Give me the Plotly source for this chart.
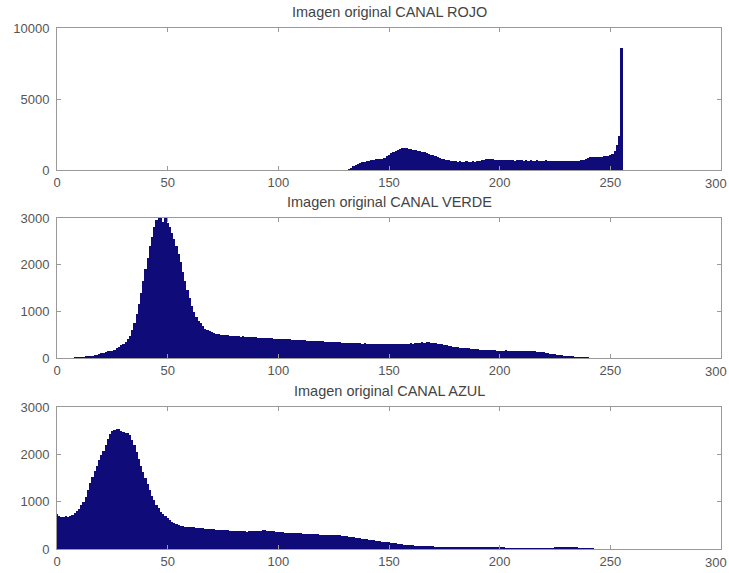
import plotly.graph_objects as go

# ---------------- data (histogram counts, bins 0..255) ----------------
bins = list(range(256))

red_counts = (
    [0] * 132
    + [50, 150, 260, 350, 420, 480, 530, 560, 600, 640,
       680, 720, 740, 750, 760, 800, 880, 980, 1080, 1180,
       1280, 1360, 1430, 1490, 1530, 1540, 1530, 1500, 1470, 1440,
       1400, 1370, 1330, 1290, 1240, 1190, 1140, 1090, 1040, 980,
       920, 860, 800, 750, 710, 680, 650, 630]            # 132..179
    + [610, 590, 600, 580, 590, 600, 570, 590, 600, 580, 610]  # 180..190
    + [640, 680, 720, 740, 750, 760, 740, 730, 720, 700]       # 191..200
    + [690, 680, 700, 670, 690, 680, 660, 690, 670, 680,
       650, 670, 660, 680, 650, 660, 670, 640, 660, 650,
       670, 640, 650, 660, 640, 650, 660, 640, 630, 650,
       640, 660, 650, 640, 660, 650, 670, 680]                 # 201..238
    + [760, 850, 900, 920, 940, 930, 950, 940, 960, 980, 1000, 1060]  # 239..250
    + [1150, 1350, 1750, 2400, 8600]                           # 251..255
)

green_counts = (
    [0] * 8
    + [5, 8, 12, 15, 20, 25, 32, 40, 50, 60,
       72, 85, 100, 115, 130, 140, 150, 160, 180, 210,
       240, 270, 300, 340, 400, 480, 600, 750, 950, 1150,
       1400, 1650, 1900, 2150, 2400, 2600, 2800, 2950, 3000, 3020,
       2920, 2990, 2900, 2800, 2680, 2550, 2400, 2230, 2050, 1850,
       1650, 1450, 1280, 1120, 980, 880, 800, 740, 680, 630,
       590, 570, 550, 530, 515, 505, 500, 495]                 # 8..75
    + [490, 485, 480, 478, 470, 472, 465, 460, 462, 455,
       450, 452, 445, 440, 442, 435, 430, 432, 425, 420,
       422, 418, 415, 412, 410]                                # 76..100
    + [408, 405, 400, 402, 398, 395, 390, 392, 385, 380,
       382, 378, 375, 370, 372, 365, 360, 362, 358, 355,
       350, 352, 348, 345, 340, 342, 338, 335, 330, 332,
       328, 325, 320, 322, 318, 315, 312, 310, 312, 308]       # 101..140
    + [305, 300, 302, 298, 300, 295, 298, 300, 302, 298,
       295, 300, 305, 310, 300, 298, 302, 305, 310, 315,
       310, 320, 325, 330, 335, 330, 340, 335, 330, 325,
       320, 310, 300, 290, 280]                                # 141..175
    + [270, 260, 255, 245, 240, 235, 225, 220, 215, 210,
       205, 200, 195, 190, 185, 180, 178, 175, 172, 170,
       168, 165, 162, 160, 158]                                # 176..200
    + [160, 158, 162, 160, 155, 158, 160, 155, 150, 152,
       155, 150, 148, 150, 145, 140, 135, 130, 125, 118]       # 201..220
    + [110, 100, 92, 85, 78, 70, 62, 55, 48, 40,
       34, 28, 22, 17, 12, 8, 5, 3, 2, 1]                      # 221..240
    + [0] * 15                                                 # 241..255
)

blue_counts = (
    [750, 700, 680, 680, 690, 680, 700, 720, 760, 800,
     850, 920, 1000, 1100, 1250, 1400, 1530, 1650, 1760, 1870,
     1980, 2080, 2200, 2320, 2420, 2500, 2520, 2540, 2530, 2500,
     2480, 2450, 2460, 2400, 2300, 2190, 2050, 1900, 1750, 1620,
     1490, 1370, 1250, 1130, 1030, 930, 860, 790, 730, 690,
     650, 610, 580, 550, 520, 500, 490, 480, 475, 470]         # 0..59
    + [465, 460, 455, 450, 445, 440, 438, 432, 428, 425,
       420, 418, 412, 410, 405, 400, 398, 395, 390, 388,
       385, 380, 378, 375, 372, 370, 368, 370, 372, 375,
       380, 385, 390, 395, 392, 388, 380, 375, 370, 365]       # 60..99
    + [360, 355, 350, 348, 345, 340, 338, 335, 332, 330,
       328, 325, 322, 320, 318, 315, 312, 310, 308, 305,
       302, 300, 298, 295, 292, 290, 295, 298, 290, 285,
       280, 270, 262, 255, 248, 240, 232, 225, 218, 210]       # 100..139
    + [203, 196, 190, 183, 176, 170, 163, 156, 150, 144,
       138, 132, 125, 118, 112, 106, 100, 95, 90, 86,
       82, 78, 74, 70, 67, 64, 62, 60, 58, 56,
       54, 52, 50, 48, 47, 46, 45, 44, 43, 42]                 # 140..179
    + [41, 40, 39, 38, 37, 36, 35, 34, 33, 32,
       31, 30, 29, 28, 28, 27, 26, 25, 24, 24,
       23, 22, 22, 21, 21, 20, 20, 19, 19, 18,
       18, 18, 17, 17, 17, 16, 16, 16, 15, 15]                 # 180..219
    + [15, 15, 16, 18, 20, 22, 24, 26, 28, 30,
       32, 34, 35, 34, 30, 25, 20, 15, 10, 6]                  # 220..239
    + [4, 2, 1] + [0] * 13                                     # 240..255
)

titles = ["Imagen original CANAL ROJO",
          "Imagen original CANAL VERDE",
          "Imagen original CANAL AZUL"]

x_ticks = [0, 50, 100, 150, 200, 250, 300]
y_ticks_red = [0, 5000, 10000]
y_ticks_gb = [0, 1000, 2000, 3000]

assert len(red_counts) == 256, len(red_counts)
assert len(green_counts) == 256, len(green_counts)
assert len(blue_counts) == 256, len(blue_counts)

# ---------------- figure ----------------
W, H = 729, 573
ML, MR, MT, MB = 57, 8, 28, 24
pw = W - ML - MR
ph = H - MT - MB

def dom(top_px, bot_px):
    return [1 - (bot_px - MT) / ph, 1 - (top_px - MT) / ph]

domains = [dom(28, 170), dom(218, 358), dom(407, 549)]
yranges = [[0, 10000], [0, 3000], [0, 3000]]
yticks = [y_ticks_red, y_ticks_gb, y_ticks_gb]
series = [red_counts, green_counts, blue_counts]

BAR = "#0f0c7a"
LINE = "#9a9a9a"
TXT = "#555555"
FAM = "Liberation Sans, Arial, sans-serif"
TICK_SIZE = 13
font = dict(family=FAM, size=TICK_SIZE, color=TXT)

# last x tick label sits at the window edge; drawn as an annotation kept inside
x_ticktext = [str(v) for v in x_ticks[:-1]] + [""]

fig = go.Figure()
layout = dict(
    width=W, height=H,
    margin=dict(l=ML, r=MR, t=MT, b=MB, autoexpand=False),
    paper_bgcolor="white", plot_bgcolor="white",
    showlegend=False, bargap=0, font=font,
    annotations=[],
)

for i in range(3):
    n = "" if i == 0 else str(i + 1)
    fig.add_trace(go.Bar(
        x=bins, y=series[i], width=1,
        marker=dict(color=BAR, line=dict(width=0)),
        xaxis="x" + n, yaxis="y" + n, hoverinfo="x+y",
    ))
    layout["xaxis" + n] = dict(
        domain=[0, 1], anchor="y" + n, range=[0, 300.001],
        tickvals=x_ticks, ticktext=x_ticktext,
        ticks="inside", ticklen=4, tickcolor=LINE,
        showline=True, linecolor=LINE, linewidth=1, mirror="allticks",
        showgrid=False, zeroline=False, tickfont=font,
        ticklabelstandoff=0, automargin=False,
    )
    layout["yaxis" + n] = dict(
        domain=domains[i], anchor="x" + n, range=yranges[i],
        tickvals=yticks[i], ticktext=[str(v) for v in yticks[i]],
        ticks="inside", ticklen=4, tickcolor=LINE,
        showline=True, linecolor=LINE, linewidth=1, mirror="allticks",
        showgrid=False, zeroline=False, tickfont=font,
        ticklabelstandoff=4, automargin=False,
    )
    layout["annotations"].append(dict(
        text=titles[i], xref="paper", yref="paper",
        x=0.5, y=domains[i][1], xanchor="center", yanchor="bottom",
        yshift=6, showarrow=False,
        font=dict(family=FAM, size=14.5, color="#444444"),
    ))
    layout["annotations"].append(dict(
        text=str(x_ticks[-1]), xref="paper", yref="paper",
        x=1 + (MR - 1) / pw, y=domains[i][0], xanchor="right", yanchor="top",
        yshift=-5, showarrow=False, borderpad=0,
        font=font,
    ))

fig.update_layout(**layout)
fig.write_html(
    "out.html",
    config={"displayModeBar": False},
    post_script="document.body.style.margin='0';document.body.style.overflow='hidden';",
)
